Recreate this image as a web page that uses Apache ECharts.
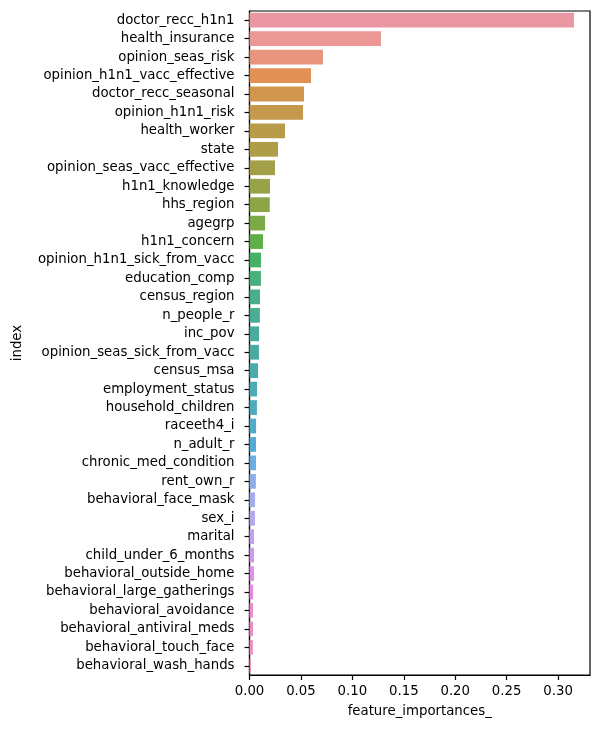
<!DOCTYPE html>
<html>
<head>
<meta charset="utf-8">
<script src="https://cdn.jsdelivr.net/npm/echarts@6/dist/echarts.min.js"></script>
<style>
  html, body { margin: 0; padding: 0; background: #fff; }
  #chart { width: 601px; height: 731px; }
</style>
</head>
<body>
<div id="chart"></div>
<script>
// Feature names, ordered from most to least important
var features = [
  'doctor_recc_h1n1', 'health_insurance', 'opinion_seas_risk',
  'opinion_h1n1_vacc_effective', 'doctor_recc_seasonal', 'opinion_h1n1_risk',
  'health_worker', 'state', 'opinion_seas_vacc_effective', 'h1n1_knowledge',
  'hhs_region', 'agegrp', 'h1n1_concern', 'opinion_h1n1_sick_from_vacc',
  'education_comp', 'census_region', 'n_people_r', 'inc_pov',
  'opinion_seas_sick_from_vacc', 'census_msa', 'employment_status',
  'household_children', 'raceeth4_i', 'n_adult_r', 'chronic_med_condition',
  'rent_own_r', 'behavioral_face_mask', 'sex_i', 'marital',
  'child_under_6_months', 'behavioral_outside_home',
  'behavioral_large_gatherings', 'behavioral_avoidance',
  'behavioral_antiviral_meds', 'behavioral_touch_face', 'behavioral_wash_hands'
];

// feature_importances_ of each feature
var importances = [
  0.3154, 0.1278, 0.0714,
  0.0598, 0.0530, 0.0520,
  0.0345, 0.0277, 0.0248, 0.0199,
  0.0197, 0.0151, 0.0131, 0.0112,
  0.0111, 0.0102, 0.0101, 0.0093,
  0.0092, 0.0083, 0.0073,
  0.0072, 0.0064, 0.0063, 0.0063,
  0.0062, 0.0054, 0.0053, 0.0044,
  0.0044, 0.0043,
  0.0035, 0.0034,
  0.0034, 0.0033, 0.0015
];

// x axis tick values
var xTicks = [0, 0.05, 0.10, 0.15, 0.20, 0.25, 0.30];

// ---- HUSL palette (l = 0.7), desaturated to 0.75 ----
var M = [
  [3.240969941904521, -1.537383177570093, -0.498610760293],
  [-0.96924363628087, 1.87596750150772, 0.041555057407175],
  [0.055630079696993, -0.20397695888897, 1.056971514242878]
];
var refU = 0.19783000664283, refV = 0.46831999493879;
var kappa = 903.2962962, epsilon = 0.0088564516;

function maxChroma(L, H) {
  var hrad = H / 360 * 2 * Math.PI;
  var sinH = Math.sin(hrad), cosH = Math.cos(hrad);
  var sub1 = Math.pow(L + 16, 3) / 1560896;
  var sub2 = sub1 > epsilon ? sub1 : L / kappa;
  var result = Infinity;
  M.forEach(function (row) {
    var m1 = row[0], m2 = row[1], m3 = row[2];
    var top = (0.99915 * m1 + 1.05122 * m2 + 1.14460 * m3) * sub2;
    var rbottom = 0.86330 * m3 - 0.17266 * m2;
    var lbottom = 0.12949 * m3 - 0.38848 * m1;
    var bottom = (rbottom * sinH + lbottom * cosH) * sub2;
    [0, 1].forEach(function (t) {
      var C = L * (top - 1.05122 * t) / (bottom + 0.17266 * sinH * t);
      if (C > 0 && C < result) result = C;
    });
  });
  return result;
}
function fromLinear(c) {
  return c <= 0.0031308 ? 12.92 * c : 1.055 * Math.pow(c, 1 / 2.4) - 0.055;
}
function huslToRgb(h, s, l) {
  var C = maxChroma(l, h) / 100 * s;
  var hrad = h / 360 * 2 * Math.PI;
  var U = Math.cos(hrad) * C, V = Math.sin(hrad) * C;
  var Y = l > 8 ? Math.pow((l + 16) / 116, 3) : l / kappa;
  var varU = U / (13 * l) + refU, varV = V / (13 * l) + refV;
  var X = 0 - (9 * Y * varU) / ((varU - 4) * varV - varU * varV);
  var Z = (9 * Y - 15 * varV * Y - varV * X) / (3 * varV);
  return M.map(function (row) {
    var v = fromLinear(row[0] * X + row[1] * Y + row[2] * Z);
    return Math.min(1, Math.max(0, v));
  });
}
function rgbToHls(r, g, b) {
  var maxc = Math.max(r, g, b), minc = Math.min(r, g, b);
  var l = (minc + maxc) / 2;
  if (minc === maxc) return [0, l, 0];
  var s = l <= 0.5 ? (maxc - minc) / (maxc + minc) : (maxc - minc) / (2 - maxc - minc);
  var rc = (maxc - r) / (maxc - minc), gc = (maxc - g) / (maxc - minc), bc = (maxc - b) / (maxc - minc);
  var h;
  if (r === maxc) h = bc - gc;
  else if (g === maxc) h = 2 + rc - bc;
  else h = 4 + gc - rc;
  h = ((h / 6) % 1 + 1) % 1;
  return [h, l, s];
}
function hlsV(m1, m2, hue) {
  hue = ((hue % 1) + 1) % 1;
  if (hue < 1 / 6) return m1 + (m2 - m1) * hue * 6;
  if (hue < 0.5) return m2;
  if (hue < 2 / 3) return m1 + (m2 - m1) * (2 / 3 - hue) * 6;
  return m1;
}
function hlsToRgb(h, l, s) {
  if (s === 0) return [l, l, l];
  var m2 = l <= 0.5 ? l * (1 + s) : l + s - l * s;
  var m1 = 2 * l - m2;
  return [hlsV(m1, m2, h + 1 / 3), hlsV(m1, m2, h), hlsV(m1, m2, h - 1 / 3)];
}
function toHex(rgb) {
  return '#' + rgb.map(function (v) {
    var s = Math.round(v * 255).toString(16);
    return s.length < 2 ? '0' + s : s;
  }).join('');
}
function barPalette(n) {
  var cols = [];
  for (var i = 0; i < n; i++) {
    var h = ((i / n) + 0.01) % 1 * 359;
    var rgb = huslToRgb(h, 0.9 * 99, 0.7 * 99);
    var hls = rgbToHls(rgb[0], rgb[1], rgb[2]);
    cols.push(toHex(hlsToRgb(hls[0], hls[1], hls[2] * 0.75)));
  }
  return cols;
}
var colors = barPalette(features.length);

var FONT = 'DejaVu Sans';
var FS = 13.3;
var chart = echarts.init(document.getElementById('chart'), null, { renderer: 'canvas' });
chart.setOption({
  animation: false,
  backgroundColor: '#fff',
  grid: {
    left: 249.5, right: 11, top: 11, bottom: 56,
    outerBoundsMode: 'none',
    containLabel: false,
    show: true, borderColor: '#000', borderWidth: 1.2, backgroundColor: 'transparent'
  },
  xAxis: {
    type: 'value',
    min: 0, max: 0.331,
    name: 'feature_importances_',
    nameLocation: 'middle',
    nameGap: 30,
    nameTextStyle: { color: '#000', fontFamily: FONT, fontSize: FS },
    splitLine: { show: false },
    axisLine: { show: true, lineStyle: { color: '#000', width: 1.2 } },
    axisTick: { show: true, length: 5, lineStyle: { color: '#000', width: 1.2 }, customValues: xTicks },
    axisLabel: {
      color: '#000', fontFamily: FONT, fontSize: FS, margin: 10,
      customValues: xTicks,
      formatter: function (v) { return v.toFixed(2); }
    }
  },
  yAxis: {
    type: 'category',
    data: features,
    inverse: true,
    name: 'index',
    nameLocation: 'middle',
    nameRotate: 90,
    nameGap: 225,
    nameTextStyle: { color: '#000', fontFamily: FONT, fontSize: FS },
    axisLine: { show: true, lineStyle: { color: '#000', width: 1.2 } },
    axisTick: { show: true, alignWithLabel: true, length: 5, lineStyle: { color: '#000', width: 1.2 } },
    axisLabel: { color: '#000', fontFamily: FONT, fontSize: FS, margin: 15, interval: 0 },
    splitLine: { show: false }
  },
  series: [{
    type: 'bar',
    data: importances.map(function (v, i) {
      return { value: v, itemStyle: { color: colors[i] } };
    }),
    barWidth: '80%'
  }]
});
</script>
</body>
</html>
